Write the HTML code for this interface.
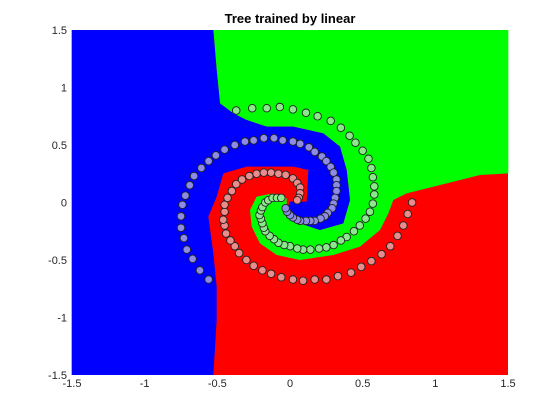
<!DOCTYPE html>
<html><head><meta charset="utf-8"><style>
body{margin:0;background:#fff;}
svg{display:block;font-family:"Liberation Sans",Arial,sans-serif;}
</style></head><body>
<svg id="c" width="560" height="420" viewBox="0 0 560 420">
<text x="290" y="23" text-anchor="middle" font-size="13" font-weight="bold" fill="#000">Tree trained by linear</text>
<g id="regions"></g>
<g id="pts"></g>
<g id="axes"></g>
</svg>
<script>
const xTicks=[-1.5,-1,-0.5,0,0.5,1,1.5];
const yTicks=[-1.5,-1,-0.5,0,0.5,1,1.5];
const greenX=[-0.37,-0.26,-0.16,-0.07,0.02,0.11,0.19,0.28,0.35,0.41,0.45,0.50,0.54,0.56,0.57,0.58,0.58,0.57,0.55,0.52,0.48,0.44,0.39,0.35,0.30,0.25,0.20,0.14,0.09,0.05,0.00,-0.04,-0.08,-0.11,-0.14,-0.17,-0.18,-0.19,-0.20,-0.21,-0.20,-0.19,-0.17,-0.15,-0.12,-0.09,-0.06];
const greenY=[0.80,0.82,0.82,0.83,0.81,0.78,0.75,0.71,0.65,0.58,0.52,0.45,0.38,0.30,0.22,0.14,0.07,-0.01,-0.08,-0.14,-0.20,-0.25,-0.30,-0.33,-0.37,-0.39,-0.40,-0.41,-0.41,-0.40,-0.38,-0.37,-0.35,-0.32,-0.29,-0.25,-0.22,-0.18,-0.14,-0.11,-0.07,-0.04,0.00,0.02,0.04,0.04,0.04];
const blueX=[-0.56,-0.62,-0.67,-0.71,-0.73,-0.75,-0.75,-0.74,-0.72,-0.69,-0.66,-0.61,-0.56,-0.51,-0.45,-0.38,-0.31,-0.25,-0.18,-0.11,-0.05,0.02,0.07,0.13,0.17,0.22,0.25,0.28,0.30,0.32,0.32,0.32,0.31,0.30,0.29,0.26,0.24,0.21,0.17,0.14,0.11,0.07,0.05,0.02,0.00,-0.02,-0.03];
const blueY=[-0.67,-0.59,-0.49,-0.41,-0.31,-0.22,-0.12,-0.02,0.06,0.15,0.23,0.30,0.36,0.41,0.46,0.50,0.53,0.54,0.56,0.56,0.54,0.53,0.51,0.48,0.44,0.40,0.36,0.31,0.26,0.20,0.15,0.10,0.04,-0.01,-0.05,-0.09,-0.12,-0.14,-0.16,-0.16,-0.16,-0.16,-0.15,-0.13,-0.11,-0.08,-0.05];
const redX=[0.84,0.81,0.78,0.74,0.69,0.63,0.56,0.49,0.42,0.33,0.25,0.17,0.09,0.02,-0.06,-0.13,-0.19,-0.25,-0.30,-0.35,-0.38,-0.41,-0.44,-0.45,-0.46,-0.45,-0.45,-0.43,-0.40,-0.37,-0.33,-0.28,-0.23,-0.18,-0.13,-0.08,-0.03,0.02,0.05,0.07,0.07,0.06,0.05];
const redY=[0.00,-0.10,-0.20,-0.29,-0.38,-0.45,-0.51,-0.56,-0.61,-0.64,-0.67,-0.67,-0.68,-0.67,-0.65,-0.62,-0.59,-0.55,-0.50,-0.44,-0.38,-0.33,-0.27,-0.20,-0.15,-0.08,-0.02,0.04,0.10,0.16,0.20,0.23,0.25,0.26,0.26,0.25,0.24,0.21,0.17,0.13,0.08,0.04,0.02];

const L=72,R=508,T=30,B=375;
const sx=v=>L+(v+1.5)/3*(R-L);
const sy=v=>B-(v+1.5)/3*(B-T);
const NS='http://www.w3.org/2000/svg';
function mk(tag,parent,attrs){const e=document.createElementNS(NS,tag);for(const k in attrs)e.setAttribute(k,attrs[k]);parent.appendChild(e);return e;}

// region outlines (zoom-image coordinates -> pixels)
const zx=z=>60+z/3, zy=z=>20+z/3;
const greenPoly=[[460,30],[1345,30],[1345,460],[1260,465],[1100,505],[1040,520],[1000,540],[985,580],[960,630],[900,680],[820,705],[720,720],[650,705],[600,670],[575,620],[570,570],[590,530],[640,520],[680,535],[680,570],[720,610],[780,630],[850,610],[870,540],[860,450],[840,380],[790,340],[700,320],[620,320],[560,300],[520,280],[480,250],[470,150]];
const bluePoly=[[35,30],[460,30],[470,150],[480,250],[520,280],[560,300],[620,320],[700,320],[790,340],[840,380],[860,450],[870,540],[850,610],[780,630],[720,610],[680,570],[690,545],[740,545],[745,450],[700,440],[560,440],[490,460],[470,530],[445,590],[460,700],[470,800],[470,900],[460,1065],[35,1065]];
const rg=document.getElementById('regions');
const rr=mk('rect',rg,{x:L,y:T,width:R-L,height:B-T,fill:'#ff0000'});


const gp=mk('polygon',rg,{points:greenPoly.map(p=>zx(p[0])+','+zy(p[1])).join(' '),fill:'#00ff00'});


const bp=mk('polygon',rg,{points:bluePoly.map(p=>zx(p[0])+','+zy(p[1])).join(' '),fill:'#0000ff'});



const pg=document.getElementById('pts');
function series(xs,ys,fill,name){
  xs.forEach((x,i)=>{
    const c=mk('circle',pg,{cx:sx(x),cy:sy(ys[i]),r:3.8,fill:fill,stroke:'#222','stroke-width':0.9});
    
    
  });
}
series(greenX,greenY,'#8de88d','green-point');
series(blueX,blueY,'#8c8ce6','blue-point');
series(redX,redY,'#e88c8c','red-point');

const ax=document.getElementById('axes');
xTicks.forEach(v=>{
  const t=mk('text',ax,{x:sx(v),y:B+12,'text-anchor':'middle','font-size':11,fill:'#262626'});
  t.textContent=String(v);
  
  
});
yTicks.forEach(v=>{
  const t=mk('text',ax,{x:L-5,y:sy(v)+4,'text-anchor':'end','font-size':11,fill:'#262626'});
  t.textContent=String(v);
  
  
});
</script>
</body></html>
